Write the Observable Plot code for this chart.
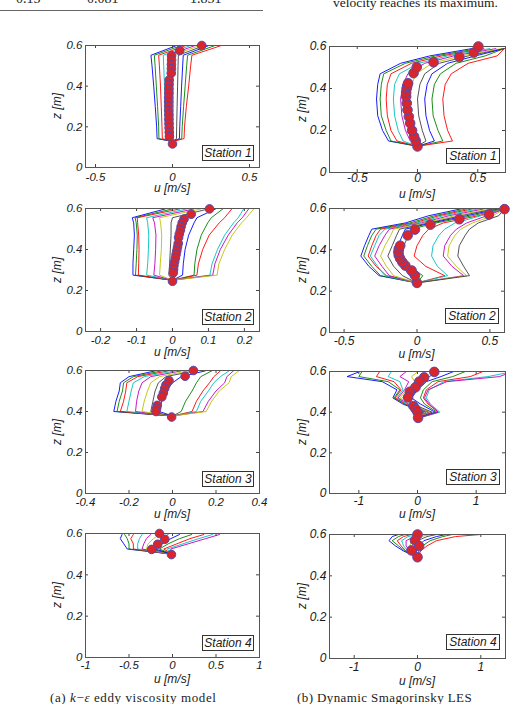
<!DOCTYPE html>
<html><head><meta charset="utf-8">
<script src="https://cdn.jsdelivr.net/npm/d3@7"></script>
<script src="https://cdn.jsdelivr.net/npm/@observablehq/plot@0.6"></script>
<style>
html,body{margin:0;padding:0;background:#fff}
#root{position:relative;width:516px;height:704px;overflow:hidden;font-family:"Liberation Sans",Arial,sans-serif;color:#1a1a1a}
.abs{position:absolute;white-space:nowrap}
.ax{font-style:italic;font-size:12px;transform:translate(-50%,-50%)}
.zl{font-style:italic;font-size:12px;transform:translate(-50%,-50%) rotate(-90deg)}
.box{border:1px solid #333;background:#fff;font-style:italic;font-size:12px;text-align:center;box-sizing:border-box;line-height:14px}
.serif{font-family:"Liberation Serif","Times New Roman",serif;color:#222}
svg{position:absolute}
</style></head><body>
<div id="root"></div>
<script>
// ---------- data ----------
const zTicks = [0, 0.2, 0.4, 0.6];

// (a) k-eps, Station 1
const kS1Z = [0.128, 0.142, 0.2, 0.3, 0.4, 0.5, 0.552, 0.598];
const kS1U = [
  [0, -0.100, -0.103, -0.112, -0.122, -0.133, -0.140, 0.02],
  [0, -0.088, -0.090, -0.097, -0.105, -0.113, -0.118, 0.05],
  [0, -0.066, -0.068, -0.073, -0.078, -0.085, -0.090, 0.08],
  [0, -0.045, -0.046, -0.049, -0.052, -0.057, -0.060, 0.11],
  [0, -0.022, -0.022, -0.024, -0.026, -0.028, -0.030, 0.14],
  [0, 0.006, 0.006, 0.006, 0.006, 0.004, 0.002, 0.17],
  [0, 0.026, 0.027, 0.030, 0.033, 0.036, 0.038, 0.20],
  [0, 0.045, 0.047, 0.053, 0.059, 0.066, 0.070, 0.23],
  [0, 0.060, 0.063, 0.072, 0.082, 0.092, 0.098, 0.27],
  [0, 0.075, 0.078, 0.090, 0.105, 0.118, 0.126, 0.31]
];
const kS1DotU = [0.19, 0.047, -0.006, -0.006, -0.007, -0.007, -0.008, -0.022, -0.023, -0.024, -0.024, -0.025, -0.025, -0.025, -0.025, -0.024, -0.024, -0.023, -0.022, -0.021, -0.02, 0.0];
const kS1DotZ = [0.6, 0.575, 0.55, 0.529, 0.507, 0.486, 0.464, 0.43, 0.409, 0.387, 0.366, 0.344, 0.323, 0.302, 0.28, 0.259, 0.237, 0.216, 0.195, 0.173, 0.152, 0.116];

// (b) LES, Station 1
const lS1Z = [0.125, 0.15, 0.2, 0.27, 0.35, 0.42, 0.47, 0.52, 0.555, 0.59];
const lS1U = [
  [0, -0.24, -0.29, -0.33, -0.34, -0.33, -0.31, -0.14, 0.10, 0.45],
  [0, -0.22, -0.26, -0.30, -0.31, -0.30, -0.28, -0.10, 0.15, 0.50],
  [0, -0.17, -0.22, -0.25, -0.26, -0.25, -0.22, -0.05, 0.20, 0.55],
  [0, -0.12, -0.16, -0.19, -0.20, -0.19, -0.15, 0.01, 0.25, 0.60],
  [0, -0.06, -0.10, -0.13, -0.14, -0.12, -0.08, 0.06, 0.30, 0.65],
  [0, 0.00, -0.03, -0.06, -0.07, -0.05, -0.01, 0.12, 0.36, 0.70],
  [0, 0.07, 0.04, 0.01, 0.00, 0.02, 0.06, 0.18, 0.42, 0.72],
  [0, 0.14, 0.10, 0.07, 0.06, 0.08, 0.12, 0.25, 0.48, 0.72],
  [0, 0.21, 0.17, 0.13, 0.12, 0.14, 0.19, 0.32, 0.56, 0.72],
  [0, 0.29, 0.25, 0.22, 0.21, 0.23, 0.28, 0.42, 0.66, 0.72]
];
const lS1DotU = [0, -0.014, -0.028, -0.045, -0.061, -0.072, -0.083, -0.089, -0.094, -0.094, -0.09, -0.085, -0.078, -0.033, -0.006, 0.133, 0.347, 0.467, 0.505];
const lS1DotZ = [0.124, 0.15, 0.171, 0.2, 0.235, 0.266, 0.298, 0.33, 0.362, 0.38, 0.4, 0.412, 0.425, 0.473, 0.502, 0.525, 0.55, 0.571, 0.6];

// (a) k-eps, Station 2
const kS2Z = [0.25, 0.275, 0.33, 0.4, 0.47, 0.53, 0.555, 0.598];
const kS2U = [
  [0, -0.110, -0.110, -0.108, -0.106, -0.108, -0.112, -0.02],
  [0, -0.103, -0.101, -0.099, -0.098, -0.101, -0.104, 0.00],
  [0, -0.095, -0.094, -0.093, -0.094, -0.097, -0.098, 0.02],
  [0, -0.072, -0.069, -0.067, -0.066, -0.069, -0.072, 0.04],
  [0, -0.052, -0.049, -0.047, -0.046, -0.050, -0.055, 0.06],
  [0, -0.036, -0.034, -0.031, -0.030, -0.033, -0.036, 0.08],
  [0, -0.010, -0.008, -0.006, -0.004, -0.004, 0.000, 0.10],
  [0, 0.028, 0.030, 0.035, 0.045, 0.060, 0.068, 0.12],
  [0, 0.060, 0.062, 0.068, 0.080, 0.098, 0.108, 0.14],
  [0, 0.068, 0.072, 0.084, 0.102, 0.130, 0.145, 0.165],
  [0, 0.104, 0.110, 0.125, 0.145, 0.170, 0.183, 0.198],
  [0, 0.112, 0.118, 0.133, 0.155, 0.180, 0.194, 0.212],
  [0, 0.124, 0.129, 0.145, 0.166, 0.192, 0.206, 0.226]
];
const kS2DotU = [0.103, 0.052, 0.032, 0.027, 0.024, 0.022, 0.019, 0.017, 0.016, 0.014, 0.012, 0.010, 0.008, 0.006, 0.004, 0.003, 0.002, 0.0];
const kS2DotZ = [0.598, 0.572, 0.548, 0.530, 0.512, 0.494, 0.476, 0.458, 0.43, 0.412, 0.394, 0.376, 0.358, 0.34, 0.322, 0.304, 0.286, 0.245];

// (b) LES, Station 2
const lS2Z = [0.24, 0.275, 0.32, 0.37, 0.42, 0.47, 0.50, 0.53, 0.565, 0.598];
const lS2U = [
  [0, -0.26, -0.33, -0.385, -0.36, -0.33, -0.31, -0.08, 0.08, 0.30],
  [0, -0.25, -0.31, -0.365, -0.34, -0.31, -0.28, -0.05, 0.12, 0.34],
  [0, -0.21, -0.28, -0.335, -0.31, -0.28, -0.25, -0.02, 0.15, 0.38],
  [0, -0.22, -0.27, -0.32, -0.29, -0.26, -0.22, 0.00, 0.18, 0.42],
  [0, -0.19, -0.24, -0.29, -0.26, -0.22, -0.19, 0.03, 0.22, 0.46],
  [0, -0.16, -0.21, -0.25, -0.22, -0.18, -0.16, 0.05, 0.26, 0.50],
  [0, -0.10, -0.16, -0.20, -0.17, -0.14, -0.12, 0.08, 0.30, 0.53],
  [0, -0.05, -0.10, -0.15, -0.13, -0.10, -0.08, 0.10, 0.34, 0.56],
  [0, 0.04, -0.05, -0.10, -0.09, -0.06, -0.04, 0.13, 0.38, 0.58],
  [0, 0.19, 0.06, -0.02, 0.00, 0.04, 0.08, 0.18, 0.42, 0.60],
  [0, 0.21, 0.14, 0.10, 0.11, 0.15, 0.19, 0.26, 0.44, 0.60],
  [0, 0.32, 0.24, 0.18, 0.19, 0.23, 0.27, 0.34, 0.48, 0.60],
  [0, 0.34, 0.27, 0.21, 0.22, 0.26, 0.30, 0.38, 0.52, 0.60],
  [0, 0.36, 0.32, 0.28, 0.29, 0.33, 0.36, 0.42, 0.56, 0.60]
];
const lS2DotU = [0, -0.014, -0.037, -0.08, -0.10, -0.115, -0.125, -0.128, -0.125, -0.115, -0.064, -0.014, 0.092, 0.29, 0.493, 0.6];
const lS2DotZ = [0.24, 0.276, 0.30, 0.324, 0.34, 0.357, 0.373, 0.389, 0.405, 0.42, 0.47, 0.498, 0.522, 0.548, 0.571, 0.597];

// (a) k-eps, Station 3
const kS3Z = [0.378, 0.40, 0.45, 0.50, 0.54, 0.57, 0.598];
const kS3U = [
  [0, -0.27, -0.26, -0.245, -0.24, -0.20, -0.08],
  [0, -0.255, -0.245, -0.23, -0.225, -0.18, -0.05],
  [0, -0.24, -0.225, -0.215, -0.21, -0.16, -0.02],
  [0, -0.21, -0.20, -0.19, -0.18, -0.13, 0.01],
  [0, -0.17, -0.165, -0.155, -0.14, -0.10, 0.04],
  [0, -0.14, -0.13, -0.115, -0.10, -0.06, 0.07],
  [0, -0.10, -0.09, -0.08, -0.065, -0.03, 0.10],
  [0, -0.06, -0.05, -0.03, 0.0, 0.04, 0.15],
  [0, 0.04, 0.06, 0.09, 0.11, 0.13, 0.18],
  [0, 0.09, 0.11, 0.14, 0.17, 0.19, 0.22],
  [0, 0.11, 0.13, 0.165, 0.19, 0.22, 0.26],
  [0, 0.14, 0.165, 0.20, 0.24, 0.25, 0.28],
  [0, 0.155, 0.18, 0.215, 0.26, 0.27, 0.305]
];
const kS3DotU = [0.096, 0.058, -0.016, -0.03, -0.036, -0.042, -0.049, -0.07, -0.073, -0.076, -0.004];
const kS3DotZ = [0.6, 0.572, 0.551, 0.53, 0.512, 0.49, 0.471, 0.43, 0.415, 0.40, 0.373];

// (b) LES, Station 3
const lS3Z = [0.37, 0.40, 0.44, 0.47, 0.51, 0.55, 0.575, 0.598];
const lS3U = [
  [0, 0.10, -0.25, -0.42, -0.35, -0.60, -1.20, -1.00],
  [0, 0.12, -0.22, -0.40, -0.30, -0.50, -1.00, -0.95],
  [0, 0.15, -0.20, -0.38, -0.28, -0.40, -0.70, -0.65],
  [0, 0.18, -0.18, -0.35, -0.25, -0.30, -0.50, -0.45],
  [0, 0.20, -0.15, -0.33, -0.22, -0.15, -0.30, -0.20],
  [0, 0.22, -0.12, -0.30, -0.18, -0.05, -0.10, 0.00],
  [0, 0.25, -0.08, -0.25, -0.12, 0.05, 0.20, 0.35],
  [0, 0.30, 0.05, -0.10, 0.00, 0.15, 0.40, 0.60],
  [0, 0.33, 0.12, 0.05, 0.10, 0.25, 0.60, 0.80],
  [0, 0.36, 0.18, 0.10, 0.15, 0.35, 0.90, 1.10],
  [0, 0.38, 0.22, 0.15, 0.20, 0.45, 1.20, 1.60],
  [0, 0.35, 0.20, 0.12, 0.18, 0.50, 1.40, 1.60]
];
const lS3DotU = [0.286, 0.114, 0.03, -0.034, -0.13, -0.16, -0.07, -0.03, 0.0, 0.01];
const lS3DotZ = [0.598, 0.571, 0.55, 0.522, 0.50, 0.473, 0.43, 0.415, 0.40, 0.372];

// (a) k-eps, Station 4
const kS4Z = [0.50, 0.525, 0.55, 0.575, 0.595];
const kS4U = [
  [0, -0.52, -0.56, -0.60, -0.58],
  [0, -0.50, -0.50, -0.52, -0.55],
  [0, -0.45, -0.45, -0.48, -0.45],
  [0, -0.40, -0.40, -0.38, -0.35],
  [0, -0.35, -0.33, -0.30, -0.25],
  [0, -0.30, -0.28, -0.22, -0.15],
  [0, -0.25, -0.20, -0.12, -0.05],
  [0, -0.20, -0.12, -0.02, 0.08],
  [0, -0.15, -0.05, 0.08, 0.22],
  [0, -0.10, 0.05, 0.20, 0.36],
  [0, -0.06, 0.12, 0.30, 0.46],
  [0, -0.02, 0.18, 0.38, 0.54]
];
const kS4DotU = [-0.15, -0.088, -0.17, -0.24, -0.012];
const kS4DotZ = [0.6, 0.572, 0.548, 0.523, 0.498];

// (b) LES, Station 4
const lS4Z = [0.49, 0.52, 0.545, 0.57, 0.59, 0.6];
const lS4U = [
  [0, -0.22, -0.35, -0.45, -0.40, -0.30],
  [0, -0.20, -0.30, -0.40, -0.30, -0.20],
  [0, -0.18, -0.26, -0.32, -0.22, -0.10],
  [0, -0.15, -0.22, -0.25, -0.15, 0.0],
  [0, -0.12, -0.18, -0.18, -0.05, 0.10],
  [0, -0.08, -0.12, -0.10, 0.05, 0.20],
  [0, -0.05, -0.05, 0.0, 0.15, 0.30],
  [0, -0.02, 0.02, 0.10, 0.30, 0.45],
  [0, 0.02, 0.08, 0.20, 0.40, 0.55],
  [0, 0.05, 0.15, 0.30, 0.60, 1.0]
];
const lS4DotU = [0, -0.04, 0.026, -0.095, 0];
const lS4DotZ = [0.6, 0.572, 0.544, 0.523, 0.49];

const stationNames = ["Station 1", "Station 2", "Station 3", "Station 4"];
const xLabel = "u [m/s]";
const zLabel = "z [m]";
const captionA = ["(a) ", "k", "−", "ε", " eddy viscosity model"];
const captionB = "(b) Dynamic Smagorinsky LES";
const topNumbers = ["0.15", "0.081", "1.851"];
const topText = "velocity reaches its maximum.";

// ---------- drawing ----------
const palette = ["#0000ff", "#008000", "#ff0000", "#00bfbf", "#bf00bf", "#bfbf00", "#404040"];
const M = {l: 34, r: 14, t: 8, b: 24};
const root = document.getElementById("root");

function addDiv(cls, text, left, top, extra) {
  const d = document.createElement("div");
  d.className = "abs " + cls;
  d.textContent = text;
  d.style.left = left + "px";
  d.style.top = top + "px";
  if (extra) Object.assign(d.style, extra);
  root.appendChild(d);
  return d;
}

const panels = [
  {Z: kS1Z, U: kS1U, du: kS1DotU, dz: kS1DotZ, st: 0, L: 85, T: 45, W: 174, H: 122, xd: [-0.565, 0.565], xt: [-0.5, 0, 0.5], fs: 11.5, pad: 5, r: 4.3, ulY: 188, zlX: 57, right: false},
  {Z: lS1Z, U: lS1U, du: lS1DotU, dz: lS1DotZ, st: 0, L: 329, T: 46, W: 176, H: 126, xd: [-0.73, 0.73], xt: [-0.5, 0, 0.5], fs: 12, pad: 1, r: 4.8, ulY: 194, zlX: 302, right: true},
  {Z: kS2Z, U: kS2U, du: kS2DotU, dz: kS2DotZ, st: 1, L: 85, T: 208, W: 174, H: 123, xd: [-0.242, 0.242], xt: [-0.2, -0.1, 0, 0.1, 0.2], fs: 11.5, pad: 4, r: 4.3, ulY: 352, zlX: 57, right: false},
  {Z: lS2Z, U: lS2U, du: lS2DotU, dz: lS2DotZ, st: 1, L: 329, T: 208, W: 175, H: 124, xd: [-0.6, 0.6], xt: [-0.5, 0, 0.5], fs: 12, pad: 4, r: 4.8, ulY: 354, zlX: 302, right: true},
  {Z: kS3Z, U: kS3U, du: kS3DotU, dz: kS3DotZ, st: 2, L: 85, T: 370, W: 174, H: 123, xd: [-0.4, 0.4], xt: [-0.4, -0.2, 0, 0.2, 0.4], fs: 11.5, pad: 4, r: 4.3, ulY: 514, zlX: 57, right: false},
  {Z: lS3Z, U: lS3U, du: lS3DotU, dz: lS3DotZ, st: 2, L: 329, T: 371, W: 176, H: 122, xd: [-1.5, 1.5], xt: [-1, 0, 1], fs: 12, pad: 3, r: 4.8, ulY: 514, zlX: 302, right: true},
  {Z: kS4Z, U: kS4U, du: kS4DotU, dz: kS4DotZ, st: 3, L: 85, T: 533, W: 174, H: 124, xd: [-1, 1], xt: [-1, -0.5, 0, 0.5, 1], fs: 11.5, pad: 3, r: 4.3, ulY: 679, zlX: 57, right: false},
  {Z: lS4Z, U: lS4U, du: lS4DotU, dz: lS4DotZ, st: 3, L: 329, T: 534, W: 176, H: 124, xd: [-1.39, 1.39], xt: [-1, 0, 1], fs: 12, pad: 4, r: 4.8, ulY: 681, zlX: 302, right: true}
];

for (const p of panels) {
  const rows = [];
  p.U.forEach((us, k) => us.forEach((u, j) => rows.push({u, z: p.Z[j], k})));
  const dots = p.du.map((u, i) => ({u, z: p.dz[i]}));
  const [x0, x1] = p.xd;
  const tx = 3 * (x1 - x0) / p.W, ty = 3 * 0.6 / p.H;
  const xtIn = p.xt.filter(v => v > x0 && v < x1);
  const ytIn = zTicks.filter(v => v > 0 && v < 0.6);
  const svg = Plot.plot({
    width: p.W + M.l + M.r, height: p.H + M.t + M.b,
    marginLeft: M.l, marginRight: M.r, marginTop: M.t, marginBottom: M.b,
    x: {domain: p.xd}, y: {domain: [0, 0.6]},
    color: {type: "identity"},
    style: {fontFamily: '"Liberation Sans", Arial, sans-serif', fontSize: p.fs + "px", fontStyle: "italic", color: "#1a1a1a", background: "transparent", overflow: "visible"},
    marks: [
      Plot.line(rows, {x: "u", y: "z", z: "k", stroke: d => palette[d.k % palette.length], strokeWidth: 0.9, clip: true}),
      Plot.ruleX(xtIn, {x: d => d, y1: 0, y2: ty, stroke: "#444"}),
      Plot.ruleX(xtIn, {x: d => d, y1: 0.6, y2: 0.6 - ty, stroke: "#444"}),
      Plot.ruleY(ytIn, {y: d => d, x1: x0, x2: x0 + tx, stroke: "#444"}),
      Plot.ruleY(ytIn, {y: d => d, x1: x1, x2: x1 - tx, stroke: "#444"}),
      Plot.frame({stroke: "#555", strokeWidth: 1}),
      Plot.dot(dots, {x: "u", y: "z", r: p.r, fill: "#d8262c", stroke: "#5a48a8", strokeWidth: 1}),
      Plot.axisX({ticks: p.xt, tickSize: 0, tickPadding: p.pad, tickFormat: d => String(d), label: null}),
      Plot.axisY({ticks: zTicks, tickSize: 0, tickPadding: 3, tickFormat: d => String(d), label: null})
    ]
  });
  svg.style.left = (p.L - M.l) + "px";
  svg.style.top = (p.T - M.t) + "px";
  root.appendChild(svg);

  addDiv("ax", xLabel, p.L + p.W / 2, p.ulY);
  addDiv("zl", zLabel, p.zlX, p.T + p.H / 2);
  const bw = p.right ? 54 : 52, bh = 16;
  const gapB = p.right ? 8 : 6;
  addDiv("box", stationNames[p.st], p.L + p.W - 5 - bw, p.T + p.H - gapB - bh, {width: bw + "px", height: bh + "px"});
}

// top fragment of page text
const numX = [16, 87, 190];
topNumbers.forEach((t, i) => addDiv("serif", t, numX[i], -9, {fontSize: "14px"}));
const rule = document.createElement("div");
rule.className = "abs";
Object.assign(rule.style, {left: "0px", top: "10px", width: "263px", height: "0", borderTop: "1.5px solid #666"});
root.appendChild(rule);
addDiv("serif", topText, 333, -5, {fontSize: "13.5px"});

// captions
const ca = document.createElement("div");
ca.className = "abs serif";
Object.assign(ca.style, {left: "50px", top: "690px", fontSize: "13px", letterSpacing: "0.6px"});
captionA.forEach((t, i) => {
  const s = document.createElement("span");
  s.textContent = t;
  if (i === 1 || i === 3) s.style.fontStyle = "italic";
  ca.appendChild(s);
});
root.appendChild(ca);
addDiv("serif", captionB, 297, 690, {fontSize: "13px", letterSpacing: "0.4px"});
</script>
</body></html>
